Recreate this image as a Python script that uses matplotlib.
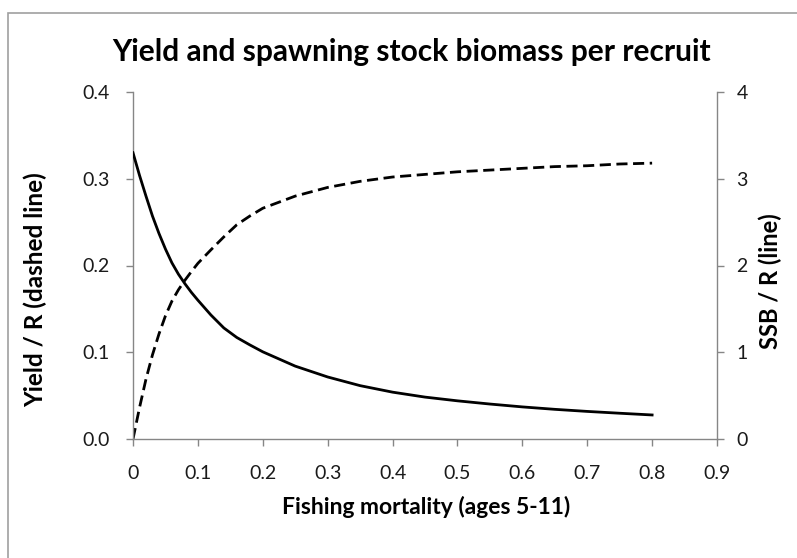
import matplotlib
matplotlib.use("Agg")
import matplotlib.pyplot as plt
from matplotlib.patches import Rectangle

# Fishing mortality grid
F = [0.0, 0.01, 0.02, 0.03, 0.04, 0.05, 0.06, 0.07, 0.08, 0.09, 0.10,
     0.12, 0.14, 0.16, 0.18, 0.20, 0.25, 0.30, 0.35, 0.40, 0.45, 0.50,
     0.55, 0.60, 0.65, 0.70, 0.75, 0.80]
# Yield per recruit (left axis, dashed)
yield_r = [0.0, 0.036, 0.069, 0.097, 0.121, 0.142, 0.159, 0.172, 0.183, 0.193, 0.2025,
           0.218, 0.233, 0.247, 0.257, 0.266, 0.280, 0.290, 0.297, 0.302, 0.305, 0.308,
           0.310, 0.312, 0.314, 0.315, 0.317, 0.318]
# SSB per recruit (right axis, solid)
ssb_r = [3.30, 3.04, 2.80, 2.57, 2.37, 2.19, 2.03, 1.90, 1.79, 1.69, 1.60,
         1.43, 1.28, 1.17, 1.085, 1.005, 0.84, 0.715, 0.615, 0.54, 0.483, 0.44,
         0.403, 0.37, 0.342, 0.318, 0.297, 0.277]

xticks = [0, 0.1, 0.2, 0.3, 0.4, 0.5, 0.6, 0.7, 0.8, 0.9]
xticklabels = ["0", "0.1", "0.2", "0.3", "0.4", "0.5", "0.6", "0.7", "0.8", "0.9"]
lticks = [0.0, 0.1, 0.2, 0.3, 0.4]
lticklabels = ["0.0", "0.1", "0.2", "0.3", "0.4"]
rticks = [0, 1, 2, 3, 4]
rticklabels = ["0", "1", "2", "3", "4"]

plt.rcParams['font.family'] = ['Lato', 'DejaVu Sans']

W, H = 797, 558
fig = plt.figure(figsize=(W / 100, H / 100), dpi=100)
fig.patches.append(Rectangle((8 / W, -0.1), 1.2, (H - 13) / H + 0.1,
                             transform=fig.transFigure, fill=False,
                             edgecolor='#a0a0a0', linewidth=1.2))

ax = fig.add_axes([133 / W, 1 - 439 / H, (717 - 133) / W, (439 - 92) / H])
ax2 = ax.twinx()

gray = '#868686'
ax.plot(F, yield_r, color='black', linewidth=2.0, linestyle=(0, (4, 2)))
ax2.plot(F, ssb_r, color='black', linewidth=2.0)

ax.set_xlim(0, 0.9)
ax.set_ylim(0, 0.4)
ax2.set_ylim(0, 4)
ax.set_xticks(xticks)
ax.set_xticklabels(xticklabels)
ax.set_yticks(lticks)
ax.set_yticklabels(lticklabels)
ax2.set_yticks(rticks)
ax2.set_yticklabels(rticklabels)

for a in (ax, ax2):
    a.spines['top'].set_visible(False)
    for s in ('left', 'right', 'bottom'):
        a.spines[s].set_color(gray)
        a.spines[s].set_linewidth(1.0)
    a.tick_params(colors=gray, labelcolor='#1a1a1a', labelsize=14,
                  length=5, width=1.0, direction='out')
ax.spines['right'].set_visible(False)
ax2.spines['left'].set_visible(False)
ax2.spines['bottom'].set_visible(False)
ax.tick_params(axis='x', pad=14)
ax.tick_params(axis='y', pad=12)
ax2.tick_params(axis='y', pad=9)

fig.text(412 / W, 1 - 52 / H, "Yield and spawning stock biomass per recruit",
         ha='center', va='center', fontsize=21.5, fontweight='bold')
fig.text(426 / W, 1 - 507 / H, "Fishing mortality (ages 5-11)",
         ha='center', va='center', fontsize=16.5, fontweight='bold')
fig.text(35 / W, 1 - 290 / H, "Yield / R (dashed line)", rotation=90,
         ha='center', va='center', fontsize=17.5, fontweight='bold')
fig.text(770 / W, 1 - 281 / H, "SSB / R (line)", rotation=90,
         ha='center', va='center', fontsize=17, fontweight='bold')

fig.savefig("out.png", dpi=100)
